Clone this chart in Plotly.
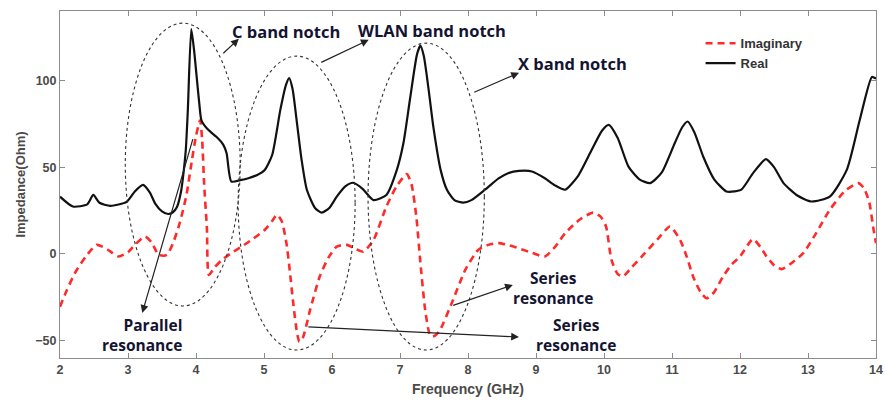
import plotly.graph_objects as go

# ---------------- data ----------------
freq_real = [2.00, 2.19, 2.40, 2.49, 2.58, 2.74, 2.98, 3.10, 3.22, 3.32, 3.40, 3.50, 3.59, 3.66,
             3.72, 3.78, 3.81, 3.85, 3.88, 3.93, 3.97, 4.01, 4.05, 4.08, 4.18, 4.30, 4.40,
             4.45, 4.52, 4.65, 4.77, 4.90, 5.01, 5.12, 5.24, 5.32, 5.37, 5.42, 5.48,
             5.55, 5.63, 5.75, 5.85, 5.96, 6.07, 6.20, 6.31, 6.45, 6.61, 6.80, 6.95, 7.05,
             7.15, 7.25, 7.30, 7.35, 7.42, 7.49, 7.60, 7.69, 7.80, 7.93, 8.05, 8.25,
             8.45, 8.59, 8.75, 8.94, 9.13, 9.28, 9.43, 9.62, 9.82, 9.97, 10.07, 10.20,
             10.36, 10.52, 10.68, 10.85, 11.04, 11.15, 11.23, 11.33, 11.46, 11.62, 11.80,
             11.92, 12.02, 12.20, 12.38, 12.50, 12.64, 12.85, 13.05, 13.32, 13.57,
             13.76, 13.94, 14.00]
real_vals = [33.0, 27.3, 28.5, 34.0, 29.5, 27.7, 30.0, 36.0, 39.8, 35.5, 29.0, 24.5, 23.0, 24.0,
             27.0, 36.0, 44.6, 60.0, 83.0, 129.6, 118.0, 102.0, 86.0, 77.0, 71.5, 67.5, 63.0,
             58.0, 41.7, 42.5, 43.6, 45.5, 48.4, 57.0, 83.0, 97.0, 101.3, 95.0, 77.0,
             55.0, 37.0, 26.5, 23.8, 26.5, 33.0, 39.0, 41.0, 37.5, 31.0, 34.0, 48.0, 63.8,
             90.0, 115.0, 120.0, 114.0, 95.0, 73.4, 48.0, 37.0, 31.0, 29.6, 31.0, 37.0,
             43.5, 46.5, 47.8, 47.5, 43.6, 39.5, 37.0, 45.0, 60.0, 71.0, 74.4, 67.0,
             50.3, 43.0, 40.8, 47.0, 63.8, 73.0, 76.3, 70.0, 56.0, 43.0, 36.0,
             36.0, 37.0, 47.0, 54.6, 50.0, 40.8, 33.5, 30.2, 33.0, 48.4,
             77.0, 102.0, 101.0]

freq_imag = [2.00, 2.10, 2.22, 2.38, 2.54, 2.70, 2.86, 3.00, 3.10, 3.25, 3.35, 3.45, 3.57,
             3.66, 3.76, 3.86, 3.94, 4.00, 4.06, 4.09, 4.12, 4.16, 4.19, 4.28, 4.38,
             4.52, 4.67, 4.85, 5.01, 5.12, 5.19, 5.26, 5.33, 5.38, 5.43, 5.48, 5.52,
             5.57, 5.68, 5.82, 5.95, 6.07, 6.22, 6.35, 6.46, 6.61, 6.80, 6.95, 7.10,
             7.17, 7.24, 7.30, 7.37, 7.43, 7.47, 7.52, 7.59, 7.78, 7.96, 8.15, 8.30,
             8.45, 8.60, 8.74, 8.95, 9.13, 9.28, 9.43, 9.65, 9.84, 9.95, 10.03, 10.11,
             10.20, 10.28, 10.40, 10.60, 10.80, 10.97, 11.12, 11.22, 11.31, 11.42, 11.51,
             11.62, 11.75, 11.88, 12.00, 12.19, 12.30, 12.39, 12.50, 12.61, 12.75,
             12.93, 13.12, 13.32, 13.55, 13.74, 13.82, 13.90, 13.96, 14.00]
imag_vals = [-30.4, -21.0, -11.0, -1.5, 5.2, 2.5, -1.5, 1.0, 5.2, 10.0, 6.5, -0.6, -0.6,
             6.0, 17.7, 34.0, 54.0, 68.0, 77.0, 66.0, 40.0, 15.0, -12.1, -7.5, -3.5,
             0.5, 4.2, 9.0, 13.8, 19.0, 22.5, 19.0, 6.2, -10.0, -28.4, -44.0, -50.6,
             -48.5, -32.0, -13.0, -2.0, 4.2, 5.2, 2.8, 1.3, 8.0, 27.3, 39.0, 46.0,
             40.0, 21.5, -5.0, -32.3, -45.5, -47.7, -47.0, -43.8, -26.5, -9.2, 2.3, 5.2,
             6.2, 5.0, 3.3, 0.5, -1.5, 4.0, 12.0, 20.0, 23.8, 21.5, 15.8, -3.5,
             -11.5, -13.0, -8.0, 0.4, 9.0, 15.8, 8.0, -2.0, -13.0, -22.0, -25.6,
             -22.0, -13.0, -6.0, -1.5, 8.5, 4.0, -1.5, -6.5, -8.8, -5.5,
             0.4, 12.0, 25.4, 36.5, 40.8, 38.0, 30.0, 15.0, 6.2]

x_ticks = [2, 3, 4, 5, 6, 7, 8, 9, 10, 11, 12, 13, 14]
y_ticks = [-50, 0, 50, 100]

# ellipses (x0, x1, y0, y1) in data units
ellipses = [(2.96, 4.65, -30.0, 133.0),
            (4.62, 6.34, -55.4, 114.0),
            (6.53, 8.24, -55.4, 121.5)]

text_color = "#141432"
tick_color = "#4a4a4a"
note_font = dict(family="Open Sans", size=16.5, color=text_color, weight="bold")
note_font2 = dict(family="Open Sans", size=15.5, color=text_color, weight="bold")

fig = go.Figure()
fig.add_trace(go.Scatter(x=freq_imag, y=imag_vals, mode="lines", name="Imaginary",
                         line=dict(color="#ff2a2a", width=2.6, dash="7px,5px",
                                   shape="spline", smoothing=0.6)))
fig.add_trace(go.Scatter(x=freq_real, y=real_vals, mode="lines", name="Real",
                         line=dict(color="#111111", width=2.2,
                                   shape="spline", smoothing=0.6)))

for (x0, x1, y0, y1) in ellipses:
    fig.add_shape(type="circle", xref="x", yref="y", x0=x0, x1=x1, y0=y0, y1=y1,
                  line=dict(color="#333333", width=1.1, dash="dot"))

# arrows: (tail_x, tail_y, head_x, head_y)
arrows = [(4.38, 114.8, 4.63, 124.0),
          (5.82, 110.0, 6.54, 123.4),
          (8.07, 92.8, 8.75, 104.4),
          (3.96, 67.0, 3.21, -34.0),
          (7.76, -30.0, 8.66, -17.9),
          (5.63, -42.0, 8.75, -47.9)]
for (tx, ty, hx, hy) in arrows:
    fig.add_annotation(x=hx, y=hy, ax=tx, ay=ty, xref="x", yref="y", axref="x", ayref="y",
                       text="", showarrow=True, arrowhead=2, arrowsize=1.3, arrowwidth=1.2,
                       arrowcolor="#222222")

# single-line labels: (text, left x, middle y)
labels = [("C band notch", 4.50, 128.0),
          ("WLAN band notch", 6.35, 129.0),
          ("X band notch", 8.70, 110.0)]
for (t, x, y) in labels:
    fig.add_annotation(x=x, y=y, xref="x", yref="y", text=t, showarrow=False,
                       xanchor="left", yanchor="middle", font=note_font)

# two-line labels: (text, x, y, anchor/align)
labels2 = [("Parallel<br>resonance", 3.82, -46.7, "right"),
           ("Series<br>resonance", 9.25, -19.6, "center"),
           ("Series<br>resonance", 9.59, -47.0, "center")]
for (t, x, y, anc) in labels2:
    fig.add_annotation(x=x, y=y, xref="x", yref="y", text=t, showarrow=False,
                       xanchor=anc, yanchor="middle", align=anc, font=note_font2)

axis_common = dict(showline=True, linecolor="#8c8c8c", linewidth=1, mirror="ticks",
                   ticks="inside", ticklen=5, tickcolor="#8c8c8c", showgrid=False,
                   zeroline=False, automargin=False,
                   tickfont=dict(family="Liberation Sans", size=12.5, color=tick_color,
                                 weight="bold"))
fig.update_xaxes(range=[2, 14], tickvals=x_ticks,
                 title=dict(text="Frequency (GHz)", standoff=8,
                            font=dict(family="Liberation Sans", size=14, color=tick_color,
                                      weight="bold")),
                 **axis_common)
fig.update_yaxes(range=[-60, 140], tickvals=y_ticks,
                 title=dict(text="Impedance(Ohm)", standoff=6,
                            font=dict(family="Liberation Sans", size=13, color=tick_color,
                                      weight="bold")),
                 **axis_common)

fig.update_layout(width=885, height=407, margin=dict(l=60, r=9, t=11, b=49),
                  plot_bgcolor="white", paper_bgcolor="white",
                  legend=dict(x=0.785, y=0.95, xanchor="left", yanchor="top",
                              bgcolor="rgba(0,0,0,0)",
                              font=dict(family="Liberation Sans", size=13, color="#333333",
                                        weight="bold")))

fig.write_html("out.html")
